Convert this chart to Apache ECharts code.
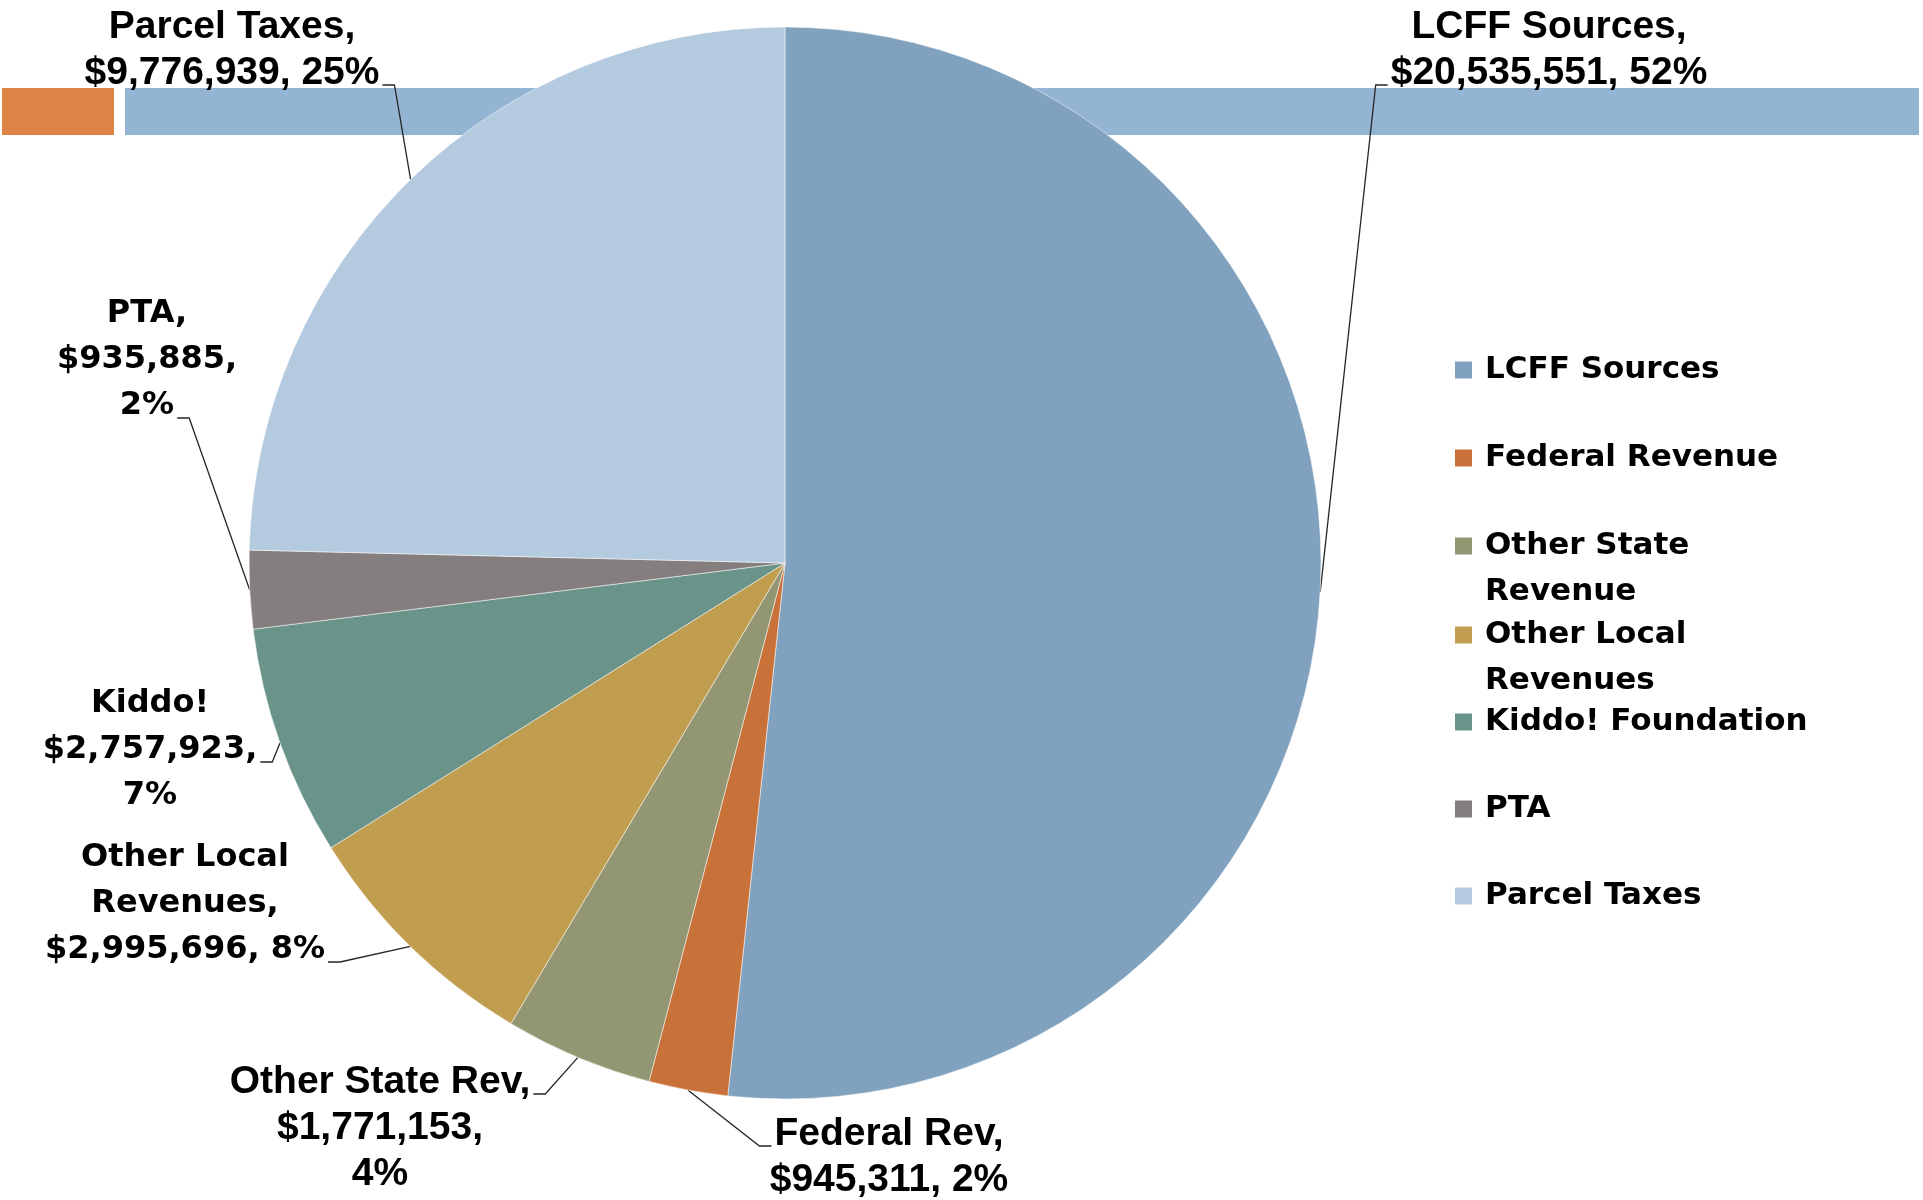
<!DOCTYPE html>
<html>
<head>
<meta charset="utf-8">
<title>Revenue Sources</title>
<script src="https://cdn.jsdelivr.net/npm/echarts@6/dist/echarts.min.js"></script>
<style>
  html, body { margin: 0; padding: 0; background: #fff; }
  #main { width: 1923px; height: 1200px; }
</style>
</head>
<body>
<div id="main"></div>
<script>
// data
var categories = ['LCFF Sources', 'Federal Revenue', 'Other State Revenue', 'Other Local Revenues', 'Kiddo! Foundation', 'PTA', 'Parcel Taxes'];
var amounts = [20535551, 945311, 1771153, 2995696, 2757923, 935885, 9776939];
var labelNames = ['LCFF Sources,', 'Federal Rev,', 'Other State Rev,', 'Other Local\nRevenues,', 'Kiddo!', 'PTA,', 'Parcel Taxes,'];
var legendNames = ['LCFF Sources', 'Federal Revenue', 'Other State\nRevenue', 'Other Local\nRevenues', 'Kiddo! Foundation', 'PTA', 'Parcel Taxes'];

// styles
var colors = ['#80a2be', '#c8723a', '#939672', '#c09d4f', '#6a9389', '#857e7e', '#b4cadf'];
var LH = 46;
var MARK = 17;
var fonts = {
  narrow: { family: 'Liberation Sans', size: 39 },
  wide: { family: 'DejaVu Sans', size: 32 }
};
// label box centre, font, value/percent separator, side and line the leader attaches to
var labelStyle = [
  { x: 1549, y: 50, font: 'narrow', sep: ', ', side: 'left', line: 1 },
  { x: 889, y: 1157, font: 'narrow', sep: ', ', side: 'left', line: 0 },
  { x: 380, y: 1128, font: 'narrow', sep: ',\n', side: 'right', line: 0 },
  { x: 185, y: 904, font: 'wide', sep: ', ', side: 'right', line: 2 },
  { x: 150, y: 750, font: 'wide', sep: ',\n', side: 'right', line: 1 },
  { x: 147, y: 360, font: 'wide', sep: ',\n', side: 'right', line: 2 },
  { x: 232, y: 50, font: 'narrow', sep: ', ', side: 'right', line: 1 }
];
var legendCenters = [370, 458, 546, 635, 722, 809, 896];

var ctx = document.createElement('canvas').getContext('2d');
function textWidth(txt, f) {
  ctx.font = 'bold ' + f.size + 'px "' + f.family + '"';
  return ctx.measureText(txt).width;
}

// for two-line legend entries the marker sits beside the first line:
// a taller icon whose visible square is at its top
var tallH = MARK + LH;
var tallIcon = 'path://M0 0H10V10H0Z M0 ' + (10 * tallH / MARK).toFixed(3) + 'H10';

var chart = echarts.init(document.getElementById('main'));

var option = {
  animation: false,
  graphic: [
    { type: 'rect', z: 0, shape: { x: 2, y: 88, width: 112, height: 47 }, style: { fill: '#df8246' } },
    { type: 'rect', z: 0, shape: { x: 125, y: 88, width: 1794, height: 47 }, style: { fill: '#94b4d3' } }
  ],
  legend: categories.map(function (name, i) {
    var twoLine = legendNames[i].indexOf('\n') >= 0;
    return {
      data: [name],
      orient: 'vertical',
      left: 1455,
      top: legendCenters[i] - LH / 2,
      padding: 0,
      icon: twoLine ? tallIcon : 'rect',
      itemWidth: MARK,
      itemHeight: twoLine ? tallH : MARK,
      itemStyle: { borderWidth: 0 },
      selectedMode: false,
      formatter: function () { return legendNames[i]; },
      textStyle: {
        fontFamily: 'DejaVu Sans',
        fontWeight: 'bold',
        fontSize: 31,
        color: '#000',
        lineHeight: LH,
        padding: [0, 0, 0, 8]
      }
    };
  }),
  series: [{
    type: 'pie',
    center: [785, 563],
    radius: 536,
    startAngle: 90,
    clockwise: true,
    avoidLabelOverlap: false,
    percentPrecision: 0,
    color: colors,
    itemStyle: { borderColor: 'rgba(255,255,255,0.5)', borderWidth: 1 },
    emphasis: { disabled: true },
    label: {
      show: true,
      position: 'outside',
      color: '#000',
      fontWeight: 'bold',
      lineHeight: LH,
      formatter: function (p) {
        var i = p.dataIndex;
        return labelNames[i] + '\n$' + amounts[i].toLocaleString('en-US') + labelStyle[i].sep + p.percent + '%';
      }
    },
    labelLine: {
      show: true,
      length: 10,
      length2: 10,
      lineStyle: { color: '#262626', width: 1.3 }
    },
    labelLayout: function (params) {
      var s = labelStyle[params.dataIndex];
      var f = fonts[s.font];
      var lines = params.text.split('\n');
      var h = lines.length * LH;
      var lw = textWidth(lines[s.line], f);
      var ay = s.y - h / 2 + (s.line + 0.5) * LH + 12;
      var ax = s.side === 'left' ? s.x - lw / 2 - 3 : s.x + lw / 2 + 3;
      var bx = s.side === 'left' ? ax - 12 : ax + 12;
      var p0 = params.labelLinePoints ? params.labelLinePoints[0] : [bx, ay];
      return {
        x: s.x,
        y: s.y,
        align: 'center',
        verticalAlign: 'middle',
        labelLinePoints: [p0, [bx, ay], [ax, ay]]
      };
    },
    data: categories.map(function (name, i) {
      var f = fonts[labelStyle[i].font];
      return {
        name: name,
        value: amounts[i],
        label: { fontFamily: f.family, fontSize: f.size }
      };
    })
  }]
};

chart.setOption(option);
</script>
</body>
</html>
